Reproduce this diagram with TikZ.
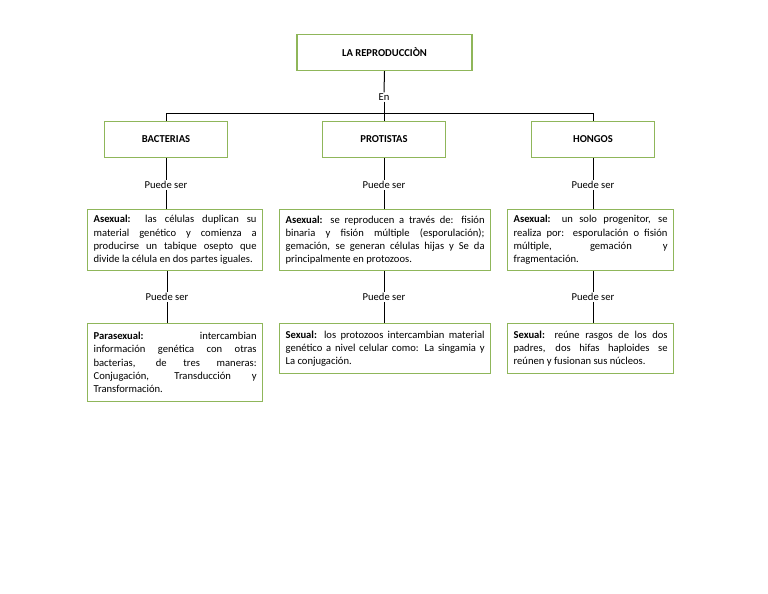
\documentclass[tikz,border=0pt]{standalone}
\usepackage{fontspec}
\setmainfont{Carlito}
\begin{document}
\begin{tikzpicture}[x=1pt,y=-1pt,
  every node/.style={font=\fontsize{10.6}{13.3}\selectfont},
  gbox/.style={draw=boxgreen,line width=1.2pt,rectangle,inner xsep=6pt,inner ysep=3pt,fill=white},
  title/.style={gbox,font=\fontsize{10.6}{13.3}\selectfont\bfseries,minimum height=36pt},
  txt/.style={gbox,anchor=north west,align=justify},
  lbl/.style={inner sep=1pt,fill=white},
  conn/.style={draw=black,line width=1pt}]
\definecolor{boxgreen}{HTML}{8FB65A}
\useasboundingbox[fill=white] (0,0) rectangle (768,594);

% top
\node[title,minimum width=175pt] (top) at (384.5,52.5) {LA REPRODUCCIÒN};
\node[lbl] (en) at (384,97) {En};
\coordinate (j) at (384,113);
\coordinate (jl) at (166,113);
\coordinate (jr) at (593,113);

% level 1
\node[title,minimum width=123pt] (bac) at (166,139.5) {BACTERIAS};
\node[title,minimum width=123pt] (pro) at (384,139.5) {PROTISTAS};
\node[title,minimum width=123pt] (hon) at (593,139.5) {HONGOS};

% puede ser labels
\node[lbl] (ps1) at (166,185) {Puede ser};
\node[lbl] (ps2) at (384,185) {Puede ser};
\node[lbl] (ps3) at (593,185) {Puede ser};
\node[lbl] (ps4) at (167,297) {Puede ser};
\node[lbl] (ps5) at (384,297) {Puede ser};
\node[lbl] (ps6) at (593,297) {Puede ser};

% level 2
\node[txt,text width=163pt,minimum height=61pt] (a1) at (87,209)
{\textbf{Asexual:} las células duplican su\linebreak material genético y comienza a\linebreak producirse un tabique osepto que\linebreak divide la célula en dos partes iguales.};
\node[txt,text width=199pt,minimum height=61pt] (a2) at (279,209)
{\textbf{Asexual:} se reproducen a través de: fisión\linebreak binaria y fisión múltiple (esporulación);\linebreak gemación, se generan células hijas y Se da\linebreak principalmente en protozoos.};
\node[txt,text width=154pt,minimum height=61pt] (a3) at (507,209)
{\textbf{Asexual:} un solo progenitor, se\linebreak realiza por: esporulación o fisión\linebreak múltiple, gemación y\linebreak fragmentación.};

% level 3
\node[txt,text width=163pt,minimum height=78pt] (s1) at (87,323)
{\textbf{Parasexual:} intercambian\linebreak información genética con otras\linebreak bacterias, de tres maneras:\linebreak Conjugación, Transducción y\linebreak Transformación.};
\node[txt,text width=199pt,minimum height=50pt] (s2) at (279,323)
{\textbf{Sexual:} los protozoos intercambian material\linebreak genético a nivel celular como: La singamia y\linebreak La conjugación.};
\node[txt,text width=154pt,minimum height=50pt] (s3) at (507,323)
{\textbf{Sexual:} reúne rasgos de los dos\linebreak padres, dos hifas haploides se\linebreak reúnen y fusionan sus núcleos.};

% connectors
\path[conn] (top.south) -- (en.north);
\path[conn] (en.south) -- (j);
\path[conn] (jl) -- (jr);
\path[conn] (jl) -- (bac.north);
\path[conn] (j) -- (pro.north);
\path[conn] (jr) -- (hon.north);
\path[conn] (bac.south) -- (ps1.north);
\path[conn] (ps1.south) -- (ps1 |- a1.north);
\path[conn] (pro.south) -- (ps2.north);
\path[conn] (ps2.south) -- (ps2 |- a2.north);
\path[conn] (hon.south) -- (ps3.north);
\path[conn] (ps3.south) -- (ps3 |- a3.north);
\path[conn] (ps4 |- a1.south) -- (ps4.north);
\path[conn] (ps4.south) -- (ps4 |- s1.north);
\path[conn] (ps5 |- a2.south) -- (ps5.north);
\path[conn] (ps5.south) -- (ps5 |- s2.north);
\path[conn] (ps6 |- a3.south) -- (ps6.north);
\path[conn] (ps6.south) -- (ps6 |- s3.north);
\end{tikzpicture}
\end{document}
